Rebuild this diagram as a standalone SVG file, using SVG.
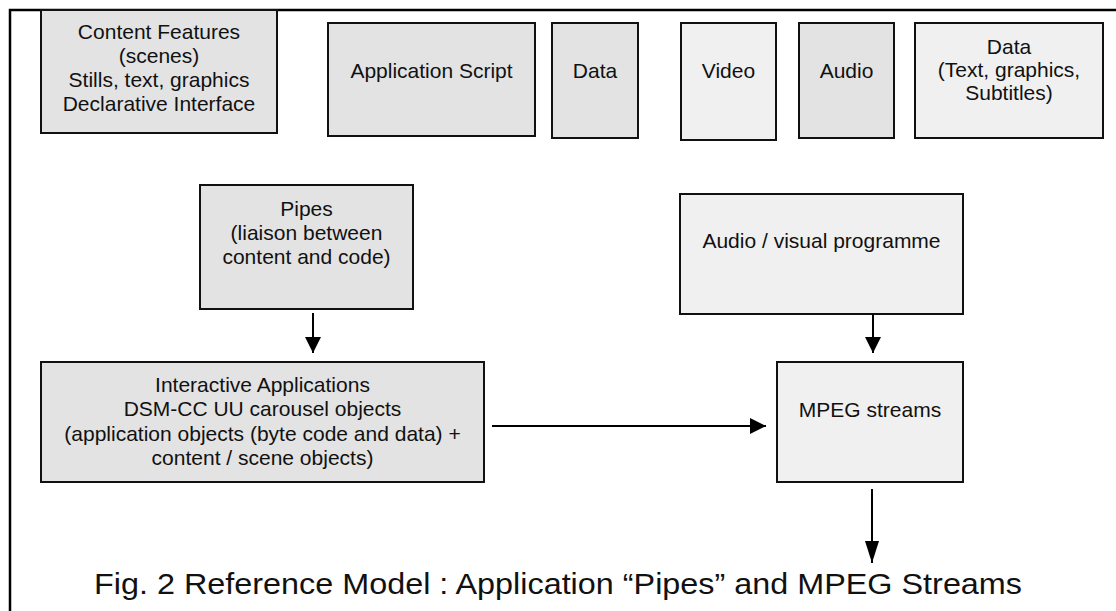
<svg xmlns="http://www.w3.org/2000/svg" width="1116" height="611" viewBox="0 0 1116 611">
<style>
  .box{stroke:#111;stroke-width:2}
  .dk{fill:#e3e3e3}
  .lt{fill:#f0f0f0}
  text{font-family:"Liberation Sans",Arial,sans-serif;font-size:21px;fill:#111;text-anchor:middle}
  .conn line{stroke:#000;stroke-width:2}
  .frame{stroke:#000;stroke-width:2.5;fill:none}
</style>
<defs>
  <marker id="ah" viewBox="0 0 16 16" refX="16" refY="8" markerWidth="16" markerHeight="16" markerUnits="userSpaceOnUse" orient="auto">
    <path d="M0,0 L16,8 L0,16 Z" fill="#000"/>
  </marker>
  <marker id="ahl" viewBox="0 0 22 14" refX="22" refY="7" markerWidth="22" markerHeight="14" markerUnits="userSpaceOnUse" orient="auto">
    <path d="M0,0 L22,7 L0,14 Z" fill="#000"/>
  </marker>
</defs>
<rect width="1116" height="611" fill="#fff"/>
<path class="frame" d="M10,611 V10 H1116"/>

<g id="content-features">
  <rect class="box dk" x="41" y="10" width="236" height="123"/>
  <text x="159" y="39">Content Features</text>
  <text x="159" y="63">(scenes)</text>
  <text x="159" y="87">Stills, text, graphics</text>
  <text x="159" y="111">Declarative Interface</text>
</g>
<g id="application-script">
  <rect class="box dk" x="328" y="23" width="207" height="113"/>
  <text x="431.5" y="78">Application Script</text>
</g>
<g id="data-app">
  <rect class="box dk" x="552" y="23" width="86" height="115"/>
  <text x="595" y="78">Data</text>
</g>
<g id="video">
  <rect class="box lt" x="681" y="23" width="95" height="117"/>
  <text x="728.5" y="78">Video</text>
</g>
<g id="audio">
  <rect class="box dk" x="799" y="23" width="95" height="115"/>
  <text x="846.5" y="78">Audio</text>
</g>
<g id="data-av">
  <rect class="box lt" x="915" y="23" width="188" height="115"/>
  <text x="1009" y="54">Data</text>
  <text x="1009" y="77">(Text, graphics,</text>
  <text x="1009" y="100">Subtitles)</text>
</g>
<g id="pipes">
  <rect class="box dk" x="200" y="185" width="213" height="124"/>
  <text x="306.5" y="216">Pipes</text>
  <text x="306.5" y="240">(liaison between</text>
  <text x="306.5" y="264">content and code)</text>
</g>
<g id="av-programme">
  <rect class="box lt" x="680" y="194" width="283" height="120"/>
  <text x="821.5" y="248">Audio / visual programme</text>
</g>
<g id="interactive-applications">
  <rect class="box dk" x="41" y="362" width="443" height="120"/>
  <text x="262.5" y="392">Interactive Applications</text>
  <text x="262.5" y="416">DSM-CC UU carousel objects</text>
  <text x="262.5" y="441">(application objects (byte code and data) +</text>
  <text x="262.5" y="465">content / scene objects)</text>
</g>
<g id="mpeg-streams">
  <rect class="box lt" x="777" y="362" width="186" height="120"/>
  <text x="870" y="417">MPEG streams</text>
</g>

<g id="connectors" class="conn">
  <line x1="313" y1="313" x2="313" y2="353" marker-end="url(#ah)"/>
  <line x1="873" y1="314" x2="873" y2="353" marker-end="url(#ah)"/>
  <line x1="492" y1="426" x2="766" y2="426" marker-end="url(#ah)"/>
  <line x1="872" y1="489" x2="872" y2="563" marker-end="url(#ahl)"/>
</g>

<text id="caption" x="558" y="594" style="font-size:30px" textLength="928" lengthAdjust="spacingAndGlyphs">Fig. 2 Reference Model : Application “Pipes” and MPEG Streams</text>
</svg>
